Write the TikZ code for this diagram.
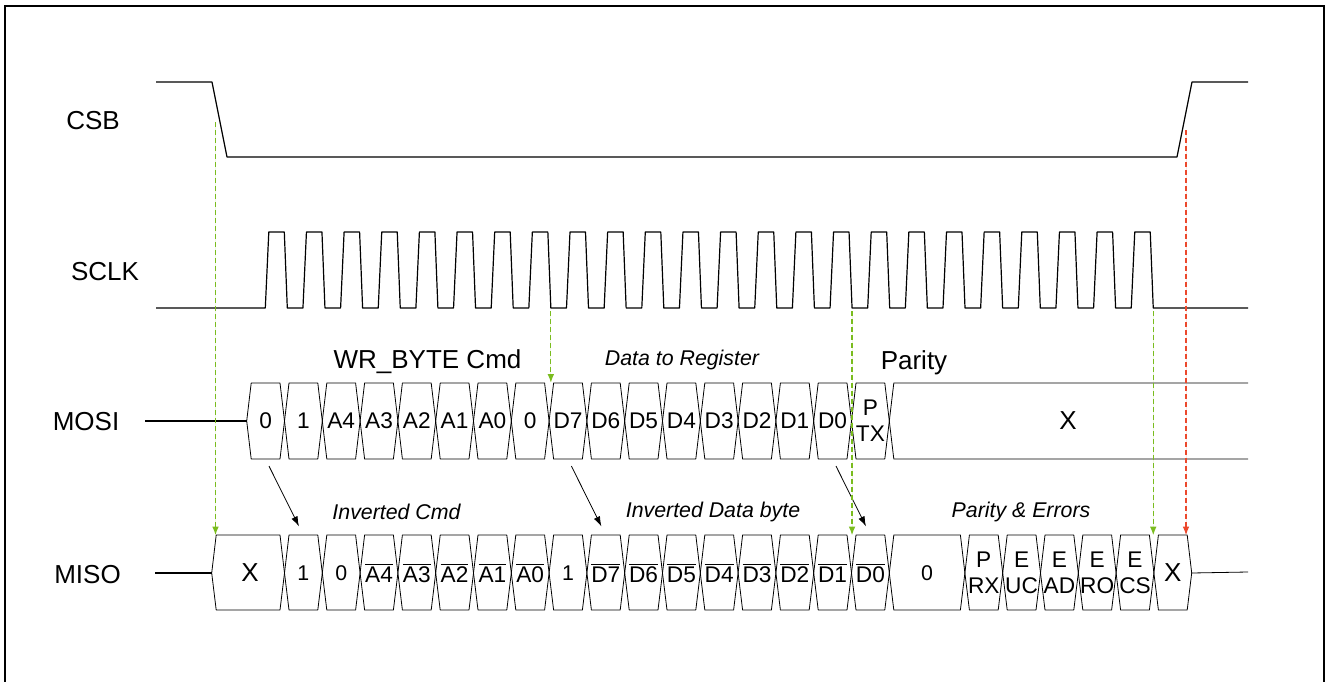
\documentclass[tikz,border=0pt]{standalone}
\usepackage{fontspec}
\setmainfont{Liberation Sans}
\usetikzlibrary{arrows.meta, calc}
\newcommand\ovl[1]{$\overline{\mbox{#1}}$}
\newcommand\sm[1]{{\fontsize{16}{18}\selectfont #1}}
\newcommand\sigx{{\fontsize{19.5}{22}\selectfont X}}
\definecolor{cue_green}{RGB}{122,188,30}
\definecolor{cue_red}{RGB}{236,72,44}
\tikzset{
  big_font/.style = {font=\fontsize{19.5}{22}\selectfont},
  note_font/.style = {font=\fontsize{16}{19}\selectfont\itshape},
  cell_font/.style = {font=\fontsize{17}{19.5}\selectfont}
}
\tikzset{
  frame_line/.style = {line width=1.1pt},
  wave/.style = {line width=0.9pt, line join=round},
  bus/.style = {line width=0.6pt, line join=round},
  cell/.style = {cell_font, align=center, inner sep=0pt},
  cause/.style = {line width=0.6pt, -{Latex[length=7.5pt, width=5pt]}},
  cue/.style = {line width=0.9pt, dash pattern=on 3.5pt off 2.5pt, -{Latex[length=6.5pt, width=5pt]}},
  cue_g/.style = {cue, draw=cue_green, fill=cue_green},
  cue_r/.style = {cue, draw=cue_red, fill=cue_red}
}
\def\bz{246.7}   % start of first bit
\def\per{37.8}   % bit width
\def\ckper{37.65}% clock period
\def\cw{4.5}     % slant of a bus edge
\begin{document}
\begin{tikzpicture}[x=0.75pt, y=-0.75pt]
    \useasboundingbox (0,0) rectangle (1329,682);
    \draw[frame_line] (5,682) -- (5,6) -- (1324,6) -- (1324,682);

    % Signal names
    \node[big_font] (csb) at (93,121) {CSB};
    \node[big_font] (sclk) at (105,272) {SCLK};
    \node[big_font] (mosi) at (86,422) {MOSI};
    \node[big_font] (miso) at (87.5,575) {MISO};

    % CSB
    \draw[wave] (156,82) -- (212,82) -- (227,157) -- (1177,157) -- (1192,82) -- (1248,82);

    % SCLK
    \draw[wave] (156,308)
        \foreach \k in {0,...,23}{
            -- ({265.3+\k*\ckper},308) -- ({268.8+\k*\ckper},232)
            -- ({284.3+\k*\ckper},232) -- ({287.3+\k*\ckper},308)}
        -- (1248,308);

    % MOSI
    \draw[wave] (145,421) -- (\bz,421);
    \foreach \lab [count=\i from 0] in {0,1,A4,A3,A2,A1,A0,0,D7,D6,D5,D4,D3,D2,D1,D0,{P\\TX}}{
        \pgfmathsetmacro\xa{\bz+\i*\per}
        \pgfmathsetmacro\xb{\xa+\per}
        \pgfmathsetmacro\cwid{(\per-2*\cw)*0.75}
        \draw[bus] (\xa,421) -- ({\xa+\cw},383) -- ({\xb-\cw},383) -- (\xb,421)
            -- ({\xb-\cw},459) -- ({\xa+\cw},459) -- cycle;
        \node[cell, minimum width=\cwid pt, minimum height=57pt] (m\i) at ({(\xa+\xb)/2},421) {\lab};
    }
    \pgfmathsetmacro\xe{\bz+17*\per}
    \draw[bus] (1248,383) -- ({\xe+\cw},383) -- (\xe,421) -- ({\xe+\cw},459) -- (1248,459);
    \node[big_font] (mosi_x) at (1068,421) {X};

    % MISO
    \draw[wave] (155,573) -- (211.7,573);
    \pgfmathsetmacro\xb{\bz+\per}
    \draw[bus] (211.7,573) -- ({211.7+\cw},535) -- ({\xb-\cw},535) -- (\xb,573)
        -- ({\xb-\cw},610) -- ({211.7+\cw},610) -- cycle;
    \pgfmathsetmacro\cwid{(\xb-211.7-2*\cw)*0.75}
    \node[cell, minimum width=\cwid pt, minimum height=56.25pt] (s0) at ({(211.7+\xb)/2+2},573) {\sigx};
    \foreach \ia/\ib/\lab in {1/2/\sm{1}, 2/3/\sm{0}, 3/4/\ovl{A4}, 4/5/\ovl{A3}, 5/6/\ovl{A2},
            6/7/\ovl{A1}, 7/8/\ovl{A0}, 8/9/\sm{1}, 9/10/\ovl{D7}, 10/11/\ovl{D6}, 11/12/\ovl{D5},
            12/13/\ovl{D4}, 13/14/\ovl{D3}, 14/15/\ovl{D2}, 15/16/\ovl{D1}, 16/17/\ovl{D0},
            17/19/\sm{0}, 19/20/{P\\RX}, 20/21/{E\\UC}, 21/22/{E\\AD}, 22/23/{E\\RO},
            23/24/{E\\CS}, 24/25/\sigx}{
        \pgfmathsetmacro\xa{\bz+\ia*\per}
        \pgfmathsetmacro\xb{\bz+\ib*\per}
        \pgfmathsetmacro\cwid{(\xb-\xa-2*\cw)*0.75}
        \draw[bus] (\xa,573) -- ({\xa+\cw},535) -- ({\xb-\cw},535) -- (\xb,573)
            -- ({\xb-\cw},610) -- ({\xa+\cw},610) -- cycle;
        \node[cell, minimum width=\cwid pt, minimum height=56.25pt] (s\ia) at ({(\xa+\xb)/2},573) {\lab};
    }
    \pgfmathsetmacro\xe{\bz+25*\per}
    \draw[bus] (\xe,573) -- (1248,572);

    % Field names
    \node[big_font] (cmd_name) at (427.5,362) {WR\_BYTE Cmd};
    \node[note_font] (data_name) at (682,360) {Data to Register};
    \node[big_font] (par_name) at (914,363) {Parity};
    \node[note_font] (inv_cmd) at (396.5,512) {Inverted Cmd};
    \node[note_font] (inv_data) at (713,512) {Inverted Data byte};
    \node[note_font] (par_err) at (1021,512) {Parity \& Errors};

    % Echo arrows
    \draw[cause, shorten <=5.7pt, shorten >=7.4pt] (m0.south) -- (s1.north);
    \draw[cause, shorten <=5.7pt, shorten >=7.4pt] (m8.south) -- (s9.north);
    \draw[cause, shorten <=5.7pt, shorten >=7.4pt] (m15.south) -- (s16.north);

    % Timing marks
    \coordinate (csb_fall) at (215.5,122);
    \coordinate (ck_7) at ({265.3+7*\ckper+22},311);
    \coordinate (ck_15) at ({265.3+15*\ckper+22},311);
    \coordinate (ck_23) at ({265.3+23*\ckper+22},311);
    \coordinate (csb_rise) at (1186,130);
    \draw[cue_g] (csb_fall) -- (csb_fall |- s0.north);
    \draw[cue_g] (ck_7) -- (ck_7 |- m8.north);
    \draw[cue_g] (ck_15) -- (ck_15 |- s16.north);
    \draw[cue_g] (ck_23) -- (ck_23 |- s24.north);
    \draw[cue_r] (csb_rise) -- (csb_rise |- s24.north);
\end{tikzpicture}
\end{document}
